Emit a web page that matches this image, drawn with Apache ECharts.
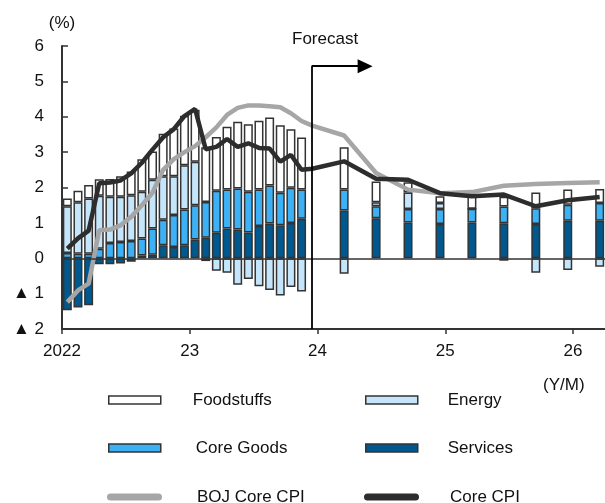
<!DOCTYPE html>
<html><head><meta charset="utf-8">
<script src="https://cdn.jsdelivr.net/npm/echarts@6/dist/echarts.min.js"></script>
<style>html,body{margin:0;padding:0;background:#fff}#c{width:605px;height:503px}</style>
</head><body><div id="c"></div>
<script>
// ---------------- DATA ----------------
const barPeriods = ['2022/01','2022/02','2022/03','2022/04','2022/05','2022/06','2022/07','2022/08','2022/09','2022/10','2022/11','2022/12',
  '2023/01','2023/02','2023/03','2023/04','2023/05','2023/06','2023/07','2023/08','2023/09','2023/10','2023/11',
  '2024/03','2024/06','2024/09','2024/12','2025/03','2025/06','2025/09','2025/12','2026/03'];
const services   = [-1.47,-1.39,-1.33,-0.17,-0.17,-0.15,-0.10,0.08,0.10,0.37,0.32,0.37,
  0.53,0.58,0.72,0.84,0.81,0.73,0.91,0.98,0.93,1.00,1.12,
  1.35,1.13,1.01,0.97,1.01,0.99,0.97,1.06,1.06];
const coreGoods  = [0.15,0.13,0.13,0.27,0.43,0.46,0.49,0.48,0.74,0.72,0.90,1.01,
  0.97,1.01,1.19,1.10,1.16,1.15,1.03,1.08,0.92,0.99,0.82,
  0.59,0.34,0.38,0.42,0.39,0.47,0.44,0.45,0.50];
const energy     = [1.32,1.45,1.56,1.50,1.31,1.28,1.29,1.32,1.38,1.23,1.10,1.25,
  1.23,-0.08,-0.35,-0.41,-0.75,-0.59,-0.79,-0.90,-1.05,-0.81,-0.94,
  -0.44,0.11,0.47,0.17,0.00,-0.07,-0.41,-0.33,-0.24];
const foodstuffs = [0.22,0.33,0.38,0.46,0.50,0.58,0.67,0.92,0.80,1.20,1.35,1.40,
  1.47,1.55,1.52,1.78,1.89,1.91,1.95,1.92,1.91,1.66,1.47,
  1.20,0.59,0.29,0.19,0.35,0.28,0.45,0.43,0.40];

const linePeriods = ['2022/01','2022/02','2022/03','2022/04','2022/05','2022/06','2022/07','2022/08','2022/09','2022/10','2022/11','2022/12',
  '2023/01','2023/02','2023/03','2023/04','2023/05','2023/06','2023/07','2023/08','2023/09','2023/10','2023/11','2023/12',
  '2024/03','2024/06','2024/09','2024/12','2025/03','2025/06','2025/09','2025/12','2026/03'];
const bojCoreCPI = [-1.24,-0.91,-0.72,0.79,0.81,0.93,1.17,1.50,1.85,2.50,2.80,3.00,
  3.17,3.42,3.70,4.05,4.25,4.32,4.32,4.30,4.27,4.10,3.88,3.75,
  3.47,2.41,1.94,1.84,1.87,2.05,2.10,2.13,2.15];
const coreCPI    = [0.27,0.56,0.78,2.12,2.14,2.20,2.40,2.70,3.07,3.42,3.65,4.02,
  4.22,3.08,3.15,3.37,3.15,3.25,3.12,3.10,2.73,2.92,2.50,2.53,
  2.74,2.25,2.22,1.84,1.75,1.80,1.47,1.64,1.73];

const yearTickLabels = ['2022','23','24','25','26'];

// ---------------- HELPERS ----------------
const FONT = "'Liberation Sans', Arial, sans-serif";
const N_MONTHS = 51; // monthly axis 2022/01 .. 2026/03
const axisMonths = [];
for (let i = 0; i < N_MONTHS; i++) {
  const y = 2022 + Math.floor(i / 12), m = (i % 12) + 1;
  axisMonths.push(y + '/' + (m < 10 ? '0' + m : m));
}
function pairs(periods, vals){ return periods.map((p,i)=>[axisMonths.indexOf(p), vals[i]]); }
const tickVals = yearTickLabels.map((_,i)=>i*12);

const C_SERV = '#00598E', C_CG = '#3DB1F5', C_EN = '#C4E5FA', C_FOOD = '#FFFFFF';
const C_GRAY = '#A6A6A6', C_DARK = '#2D2D2D';

function barSeries(name, vals, color){
  return { type:'bar', name, stack:'total', barWidth:9, xAxisIndex:1, data: pairs(barPeriods, vals),
    itemStyle:{ color, borderColor:'#333', borderWidth:1.5 }, z:2 };
}

function legendAt(name, iconX, iconCY, textX, textCY, icon, iw, ih, itemStyle){
  const H0 = 20;
  const dy = Math.round(iconCY - textCY);
  const pad = [dy<0 ? -2*dy : 0, 0, dy>0 ? 2*dy : 0, textX - iconX - iw - 5];
  const H = H0 + 2*Math.abs(dy);
  const g = Math.min(0, ih/2 - H/2);
  return { data:[name], left: iconX, top: iconCY - ih/2 + g, padding:0, itemWidth: iw, itemHeight: ih,
    icon, selectedMode:false, orient:'horizontal',
    textStyle:{ fontSize:17, fontFamily:FONT, color:'#111', lineHeight:20, padding: pad },
    itemStyle };
}
const capsule = 'path://M3.5,0 L51.5,0 A3.5,3.5 0 0 1 51.5,7 L3.5,7 A3.5,3.5 0 0 1 3.5,0 Z';
const boxStyle = c => ({ color:c, borderColor:'#333', borderWidth:1.5 });

const chart = echarts.init(document.getElementById('c'), null, {renderer:'canvas'});
chart.setOption({
  animation:false,
  backgroundColor:'#fff',
  grid:{ left:62, right:0, top:46, bottom:174 },
  xAxis:[
    { type:'value', min:0, max:N_MONTHS, interval:12,
      axisLine:{ onZero:false, lineStyle:{ color:'#333', width:2 } },
      axisTick:{ show:true, length:5, customValues: tickVals, lineStyle:{ color:'#333', width:1.5 } },
      axisLabel:{ customValues: tickVals, formatter: v => yearTickLabels[Math.round(v/12)], margin:14,
        fontSize:17, fontFamily:FONT, color:'#111' },
      splitLine:{ show:false } },
    { type:'category', data: axisMonths, boundaryGap:true, show:false,
      axisLine:{ onZero:false } }
  ],
  yAxis:{ type:'value', min:-2, max:6, interval:1,
    name:'(%)', nameLocation:'end', nameGap:14,
    nameTextStyle:{ fontSize:17, fontFamily:FONT, color:'#111', align:'center' },
    axisLine:{ show:true, onZero:false, lineStyle:{ color:'#333', width:2 } },
    axisTick:{ show:true, inside:true, length:6, lineStyle:{ color:'#333', width:1.5 } },
    axisLabel:{ margin:18, fontSize:17, fontFamily:FONT, color:'#111',
      formatter: v => v < 0 ? '\u25B2 ' + (-v) : String(v) },
    splitLine:{ show:false } },
  legend:[
    legendAt('Foodstuffs', 108, 400, 192, 398, 'rect', 52, 8, boxStyle(C_FOOD)),
    legendAt('Energy', 365, 400, 447, 399, 'rect', 52, 8, boxStyle(C_EN)),
    legendAt('Core Goods', 108, 448, 195, 450, 'rect', 52, 8, boxStyle(C_CG)),
    legendAt('Services', 365, 448, 447, 443, 'rect', 52, 8, boxStyle(C_SERV)),
    legendAt('BOJ Core CPI', 107, 497, 197, 498, capsule, 55, 7, { color:C_GRAY, borderWidth:0 }),
    legendAt('Core CPI', 364, 497, 450, 493, capsule, 55, 7, { color:C_DARK, borderWidth:0 })
  ],
  graphic:[
    { type:'text', left:292, top:31, style:{ text:'Forecast', font:'17px ' + FONT, fill:'#111' } },
    { type:'text', left:543, top:377, style:{ text:'(Y/M)', font:'17px ' + FONT, fill:'#111' } }
  ],
  series:[
    Object.assign(barSeries('Services', services, C_SERV), {
      markLine:{ silent:true, symbol:['none','none'], label:{ show:false },
        lineStyle:{ color:'#333', width:1.5, type:'solid' }, data:[ { yAxis:0 } ] } }),
    barSeries('Core Goods', coreGoods, C_CG),
    barSeries('Energy', energy, C_EN),
    barSeries('Foodstuffs', foodstuffs, C_FOOD),
    { type:'line', name:'BOJ Core CPI', xAxisIndex:1, data: pairs(linePeriods, bojCoreCPI), symbol:'none',
      itemStyle:{ color:C_GRAY }, lineStyle:{ color:C_GRAY, width:4.5 }, z:3 },
    { type:'line', name:'Core CPI', xAxisIndex:1, data: pairs(linePeriods, coreCPI), symbol:'none',
      itemStyle:{ color:C_DARK }, lineStyle:{ color:C_DARK, width:4.5 }, z:4 },
    { type:'line', name:'forecast-marker', xAxisIndex:0, data:[], silent:true,
      markLine:{ silent:true, symbol:['none','none'], label:{ show:false },
        lineStyle:{ color:'#000', width:1.8, type:'solid' },
        data:[
          [ { coord:[23.44,-2] }, { coord:[23.44,5.43] } ],
          [ { coord:[23.44,5.43] }, { coord:[28.47,5.43], symbol:'triangle', symbolSize:[14,15] } ]
        ] } }
  ]
});
</script></body></html>
